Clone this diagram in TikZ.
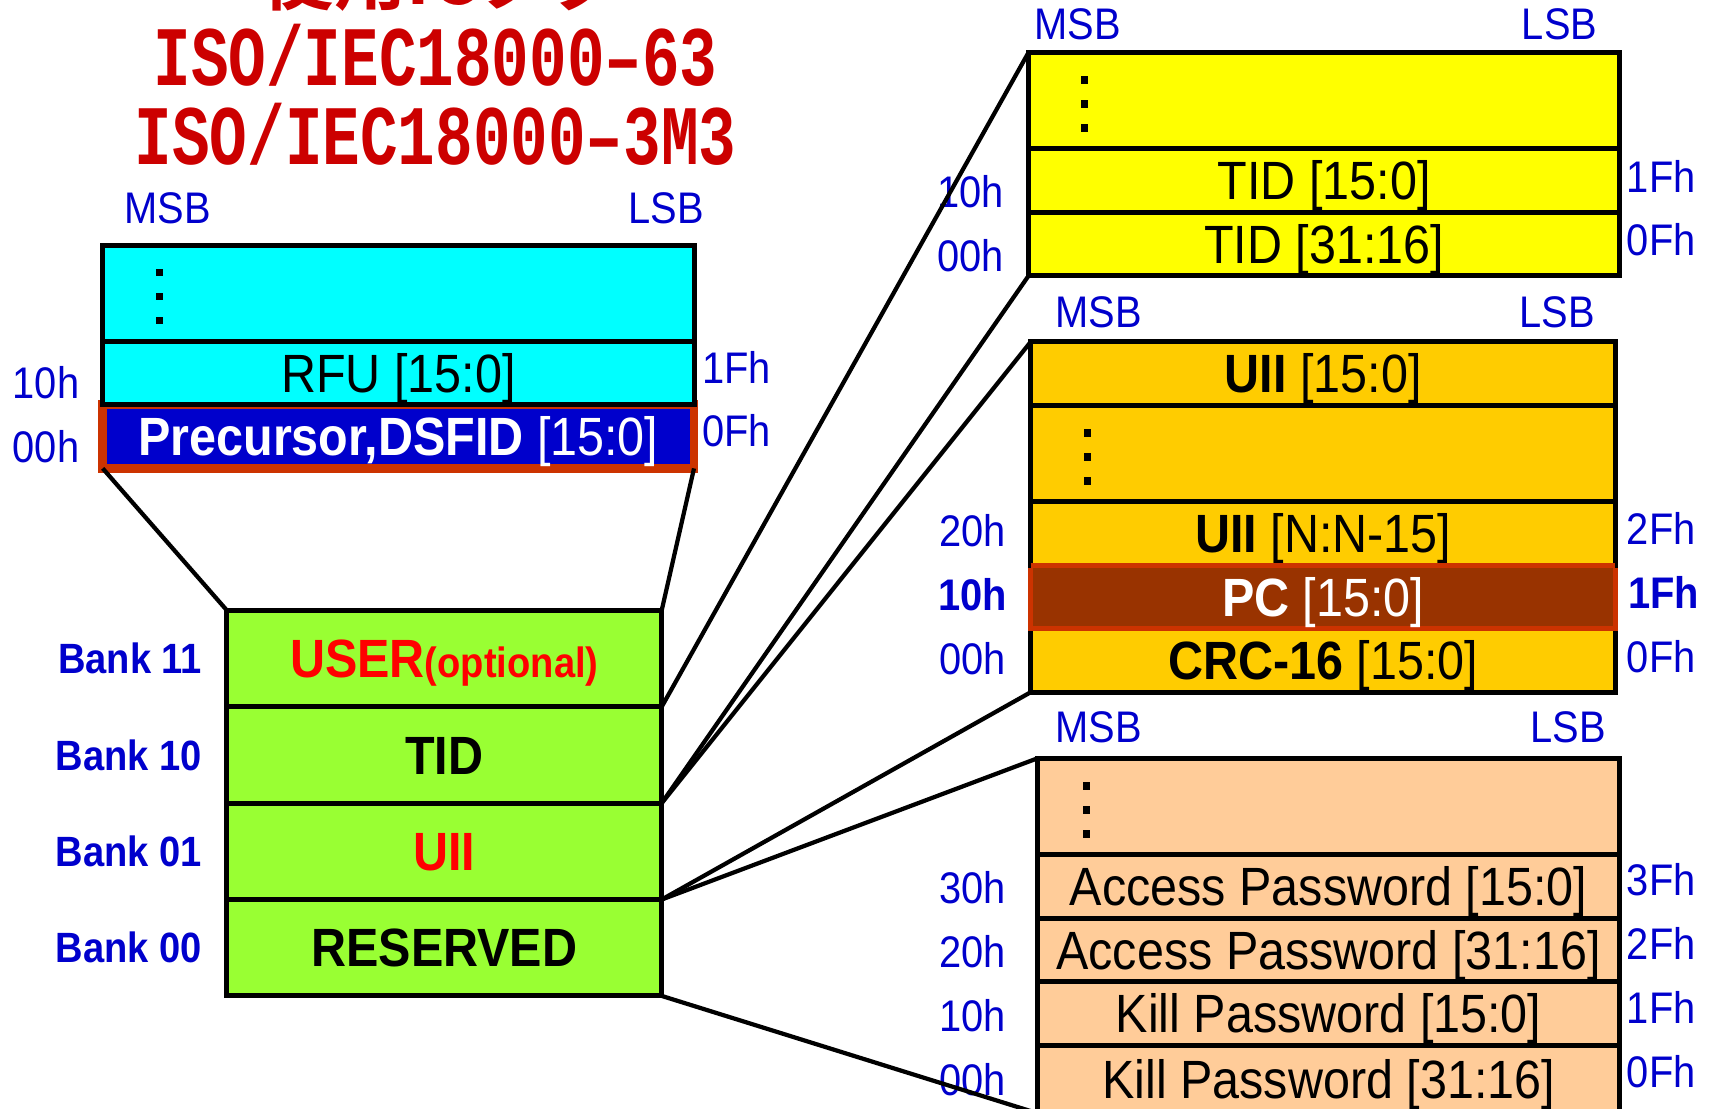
\documentclass[tikz,border=0pt]{standalone}
\usepackage{fontspec}
\setmainfont{Liberation Sans}[FakeStretch=0.9]
\newfontfamily\titlefont{Liberation Mono}[FakeStretch=0.74]
\newfontfamily\jpfont{Noto Sans CJK JP Bold}
\usetikzlibrary{positioning, calc}

\definecolor{lblblue}{HTML}{0000CC}
\definecolor{precblue}{HTML}{0000CC}
\definecolor{memcyan}{HTML}{00FFFF}
\definecolor{bankgreen}{HTML}{99FF33}
\definecolor{tidyellow}{HTML}{FFFF00}
\definecolor{uiiorange}{HTML}{FFCC00}
\definecolor{pwpeach}{HTML}{FFCC99}
\definecolor{pcbrown}{HTML}{993300}
\definecolor{hired}{HTML}{CC3300}
\definecolor{titlered}{HTML}{CC0000}
\definecolor{userred}{HTML}{FF0000}

\newcommand{\boxfont}{\fontsize{14}{16}\selectfont}
\newcommand{\lblfont}{\fontsize{11.5}{13}\selectfont}
\newcommand{\titlesize}{\titlefont\bfseries\fontsize{22}{24}\selectfont}

\tikzstyle{memrow} = [rectangle, draw=black, line width=1.3pt, inner sep=0pt, outer sep=0pt, text centered, text height=13pt, text depth=3pt, font=\boxfont]
\tikzstyle{tallrow} = [minimum height=0.88cm]
\tikzstyle{flatrow} = [minimum height=0.58cm]
\tikzstyle{cyanrow} = [memrow, fill=memcyan, minimum width=5.40cm]
\tikzstyle{bankrow} = [memrow, tallrow, fill=bankgreen, minimum width=3.97cm, font=\boxfont\bfseries]
\tikzstyle{tidrow} = [memrow, fill=tidyellow, minimum width=5.40cm]
\tikzstyle{uiirow} = [memrow, fill=uiiorange, minimum width=5.34cm]
\tikzstyle{pwrow} = [memrow, fill=pwpeach, minimum width=5.32cm]
\tikzstyle{bitlbl} = [text=lblblue, font=\lblfont, inner sep=0pt]
\tikzstyle{banklbl} = [text=lblblue, font=\fontsize{11}{12}\selectfont\bfseries, inner sep=0pt]
\tikzstyle{titleline} = [anchor=base, text=titlered, font=\titlesize]
\tikzstyle{link} = [line width=1.1pt]

\begin{document}
\begin{tikzpicture}[x=0.01cm, y=-0.01cm]
  \useasboundingbox (0,0) rectangle (1568,1013);

  % title
  \node (jp) [anchor=base, text=titlered, font={\jpfont\fontsize{18.8}{20}\selectfont}] at (404,4) {使用ICタグ};
  \node (std1) [titleline] at (398,78) {ISO/IEC18000–63};
  \node (std2) [titleline] at (398,150) {ISO/IEC18000–3M3};

  % USER bank
  \node (prec) [memrow, flatrow, fill=precblue, draw=hired, line width=2.3pt, minimum width=5.40cm, text=white] at (364,399) {\textbf{Precursor,DSFID} [15:0]};
  \node (rfu) [cyanrow, flatrow, above=0pt of prec] {RFU [15:0]};
  \node (cdots) [cyanrow, tallrow, above=0pt of rfu] {};

  % banks
  \node (resv) [bankrow] at (406,866) {RESERVED};
  \node (uii) [bankrow, above=0pt of resv, text=userred] {UII};
  \node (tid) [bankrow, above=0pt of uii] {TID};
  \node (user) [bankrow, above=0pt of tid, text=userred] {USER{\fontsize{11}{12}\selectfont(optional)}};

  \node (b11) [banklbl, left=0.22cm of user] {Bank 11};
  \node (b10) [banklbl, left=0.22cm of tid] {Bank 10};
  \node (b01) [banklbl, left=0.22cm of uii] {Bank 01};
  \node (b00) [banklbl, left=0.22cm of resv] {Bank 00};

  % TID bank
  \node (tid31) [tidrow, flatrow] at (1210,223) {TID [31:16]};
  \node (tid15) [tidrow, flatrow, above=0pt of tid31] {TID [15:0]};
  \node (tdots) [tidrow, tallrow, above=0pt of tid15] {};

  % UII bank
  \node (crc) [uiirow, flatrow] at (1209,603.5) {\textbf{CRC-16} [15:0]};
  \node (pc) [uiirow, flatrow, above=0pt of crc, fill=pcbrown, draw=hired, text=white] {\textbf{PC} [15:0]};
  \node (uiin) [uiirow, flatrow, above=0pt of pc] {\textbf{UII} [N:N-15]};
  \node (udots) [uiirow, tallrow, above=0pt of uiin] {};
  \node (uii15) [uiirow, flatrow, above=0pt of udots] {\textbf{UII} [15:0]};
  \draw [hired, line width=1.3pt] (pc.north west) -- (pc.north east);

  % RESERVED bank
  \node (pdots) [pwrow, tallrow] at (1214,737) {};
  \node (acc15) [pwrow, flatrow, below=0pt of pdots] {Access Password [15:0]};
  \node (acc31) [pwrow, flatrow, below=0pt of acc15] {Access Password [31:16]};
  \node (kill15) [pwrow, flatrow, below=0pt of acc31] {Kill Password [15:0]};
  \node (kill31) [pwrow, flatrow, below=0pt of kill15, minimum height=0.62cm] {Kill Password [31:16]};

  \foreach \d/\o in {cdots/52, tdots/51, udots/52, pdots/45}
    \foreach \k in {-1,0,1}
      \fill ($(\d.west)+(\o,3+22*\k)$) +(-3.5,-3.5) rectangle +(3.5,3.5);

  % MSB / LSB
  \node (m1) [bitlbl] at (153,190) {MSB};
  \node (l1) [bitlbl] at (609,190) {LSB};
  \node (m2) [bitlbl] at (985,22) {MSB};
  \node (l2) [bitlbl] at (1425,22) {LSB};
  \node (m3) [bitlbl] at (1004,285) {MSB};
  \node (l3) [bitlbl] at (1423,285) {LSB};
  \node (m4) [bitlbl] at (1004,665) {MSB};
  \node (l4) [bitlbl] at (1433,665) {LSB};

  % word addresses
  \node (a1) [bitlbl] at (42,350) {10h};
  \node (a2) [bitlbl] at (42,408) {00h};
  \node (a3) [bitlbl] at (673,336) {1Fh};
  \node (a4) [bitlbl] at (673,394) {0Fh};
  \node (a5) [bitlbl] at (887,175) {10h};
  \node (a6) [bitlbl] at (887,234) {00h};
  \node (a7) [bitlbl] at (1518,161) {1Fh};
  \node (a8) [bitlbl] at (1518,219) {0Fh};
  \node (a9) [bitlbl] at (889,485) {20h};
  \node (a10) [bitlbl] at (889,543) {\textbf{10h}};
  \node (a11) [bitlbl] at (889,602) {00h};
  \node (a12) [bitlbl] at (1518,483) {2Fh};
  \node (a13) [bitlbl] at (1520,541) {\textbf{1Fh}};
  \node (a14) [bitlbl] at (1518,600) {0Fh};
  \node (a15) [bitlbl] at (889,811) {30h};
  \node (a16) [bitlbl] at (889,870) {20h};
  \node (a17) [bitlbl] at (889,928) {10h};
  \node (a18) [bitlbl] at (889,987) {00h};
  \node (a19) [bitlbl] at (1518,804) {3Fh};
  \node (a20) [bitlbl] at (1518,862) {2Fh};
  \node (a21) [bitlbl] at (1518,921) {1Fh};
  \node (a22) [bitlbl] at (1518,979) {0Fh};

  % fan-out lines
  \draw [link] (prec.south west) -- (user.north west);
  \draw [link] (prec.south east) -- (user.north east);
  \draw [link] (user.south east) -- (tdots.north west);
  \draw [link] (tid.south east) -- (tid31.south west);
  \draw [link] (tid.south east) -- (uii15.north west);
  \draw [link] (uii.south east) -- (crc.south west);
  \draw [link] (uii.south east) -- (pdots.north west);
  \draw [link] (resv.south east) -- (kill31.south west);
\end{tikzpicture}
\end{document}
